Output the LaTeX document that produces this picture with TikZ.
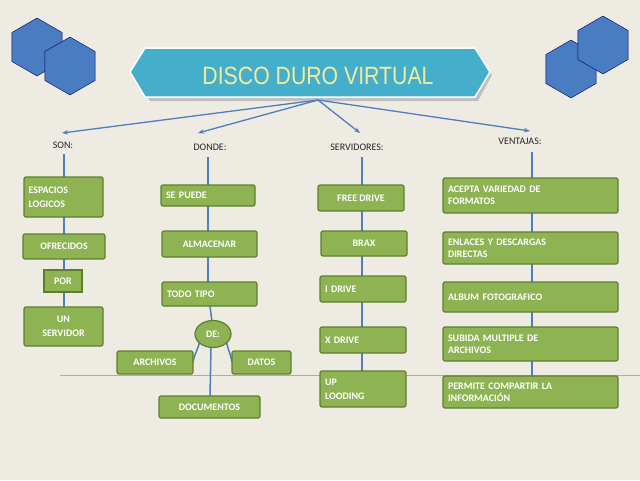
\documentclass[tikz,border=0pt]{standalone}
\usepackage{fontspec}
\setmainfont{Carlito}
\newfontfamily\ttlfont{Liberation Sans}
\usetikzlibrary{shapes.geometric,arrows.meta}
\definecolor{gbox}{HTML}{8DB352}
\definecolor{gedge}{HTML}{5E7F2E}
\definecolor{bl}{HTML}{4F7DC0}
\definecolor{hexc}{HTML}{4A7CC2}
\definecolor{bgc}{HTML}{EEEBE2}
\definecolor{ban}{HTML}{45AFCB}
\definecolor{ttl}{HTML}{F2EC9A}
\tikzset{
 gb/.style={draw=gedge,line width=1.2pt,fill=gbox,rounded corners=2pt,text=white,font=\bfseries\fontsize{10}{12}\selectfont,inner sep=2pt},
 lab/.style={font=\fontsize{10}{12}\selectfont,text=black!85},
 ln/.style={draw=bl,line width=1.5pt},
 ar/.style={draw=bl,line width=1.3pt,-{Stealth[length=6pt]}},
 hx/.style={regular polygon,regular polygon sides=6,shape border rotate=30,draw=black!60!blue,fill=hexc,minimum size=58pt,inner sep=0pt},
 tt/.style={font=\ttlfont\fontsize{25}{27}\selectfont}
}
\begin{document}
\begin{tikzpicture}[x=1pt,y=-1pt]
\fill[bgc] (0,0) rectangle (640,480);
\useasboundingbox (0,0) rectangle (640,480);
\draw[bl!60,line width=0.6pt] (60,375) -- (640,375);
% hexagons
\node[hx] (h1) at (37,47) {};
\node[hx] (h2) at (70,66) {};
\node[hx] (h3) at (571,69) {};
\node[hx] (h4) at (603,45) {};
% banner
\fill[black!25] (134,75) -- (150,51) -- (478,51) -- (492,75) -- (478,101) -- (150,101) -- cycle;
\draw[white,line width=1.5pt,fill=ban] (130,72) -- (145,48) -- (475,48) -- (490,72) -- (475,97) -- (145,97) -- cycle;
\node[tt,text=ttl] (title) at (318,76) {\addfontfeature{FakeStretch=0.85}DISCO DURO VIRTUAL};
\coordinate (o) at (318,100);
% labels
\node[lab] (son) at (63,145) {SON:};
\node[lab] (don) at (210,147) {DONDE:};
\node[lab] (ser) at (357,147) {SERVIDORES:};
\node[lab] (ven) at (520,141) {VENTAJAS:};
\draw[ar] (o) -- (62,133);
\draw[ar] (o) -- (198,133);
\draw[ar] (o) -- (360,133);
\draw[ar] (o) -- (530,131);
% vertical lines
\draw[ln] (64,154) -- (64,307);
\draw[ln] (208,157) -- (208,282);
\draw[ln] (362,157) -- (362,371);
\draw[ln] (532,152) -- (532,376);
\draw[ln] (210,306) -- (212,322);
\draw[ln] (211,347) -- (210,396);
\draw[ln] (200,340) to[out=-100,in=80] (193,362);
\draw[ln] (226,340) to[out=-80,in=100] (232,362);
% SON
\node[gb,minimum width=79pt,minimum height=40pt,align=left,text width=70pt] (a1) at (63.5,197) {ESPACIOS\\[2pt]LOGICOS};
\node[gb,minimum width=82pt,minimum height=25pt] (a2) at (64,246.5) {OFRECIDOS};
\node[gb,rounded corners=0pt,minimum width=38pt,minimum height=22pt] (a3) at (63,281) {POR};
\node[gb,minimum width=79pt,minimum height=39pt,align=center] (a4) at (63.5,326.5) {UN\\[2pt]SERVIDOR};
% DONDE
\node[gb,minimum width=94pt,minimum height=21pt,align=left,text width=84pt] (b1) at (208,195.5) {SE PUEDE};
\node[gb,minimum width=95pt,minimum height=26pt] (b2) at (209.5,244) {ALMACENAR};
\node[gb,minimum width=95pt,minimum height=24pt,align=left,text width=85pt] (b3) at (209.5,294) {TODO TIPO};
\node[ellipse,draw=gedge,line width=1.2pt,fill=gbox,text=white,font=\bfseries\fontsize{10}{12}\selectfont,minimum width=36pt,minimum height=27pt,inner sep=0pt] (de) at (213,334) {DE:};
\node[gb,minimum width=76pt,minimum height=23pt] (b4) at (155,362.5) {ARCHIVOS};
\node[gb,minimum width=59pt,minimum height=23pt] (b5) at (261.5,362.5) {DATOS};
\node[gb,minimum width=101pt,minimum height=22pt] (b6) at (209.5,407) {DOCUMENTOS};
% SERVIDORES
\node[gb,minimum width=86pt,minimum height=26pt] (c1) at (361,198) {FREE DRIVE};
\node[gb,minimum width=86pt,minimum height=25pt] (c2) at (364,243.5) {BRAX};
\node[gb,minimum width=86pt,minimum height=26pt,align=left,text width=76pt] (c3) at (363,289) {I DRIVE};
\node[gb,minimum width=86pt,minimum height=26pt,align=left,text width=76pt] (c4) at (363,340) {X DRIVE};
\node[gb,minimum width=86pt,minimum height=36pt,align=left,text width=76pt] (c5) at (363,389) {UP\\[2pt]LOODING};
% VENTAJAS
\node[gb,minimum width=175pt,minimum height=35pt,align=left,text width=165pt] (d1) at (530.5,195.5) {ACEPTA VARIEDAD DE\\FORMATOS};
\node[gb,minimum width=175pt,minimum height=32pt,align=left,text width=165pt] (d2) at (530.5,248) {ENLACES Y DESCARGAS\\DIRECTAS};
\node[gb,minimum width=175pt,minimum height=30pt,align=left,text width=165pt] (d3) at (530.5,297) {ALBUM FOTOGRAFICO};
\node[gb,minimum width=175pt,minimum height=34pt,align=left,text width=165pt] (d4) at (530.5,344) {SUBIDA MULTIPLE DE\\ARCHIVOS};
\node[gb,minimum width=175pt,minimum height=32pt,align=left,text width=165pt] (d5) at (530.5,392) {PERMITE COMPARTIR LA\\INFORMACIÓN};
\end{tikzpicture}
\end{document}
